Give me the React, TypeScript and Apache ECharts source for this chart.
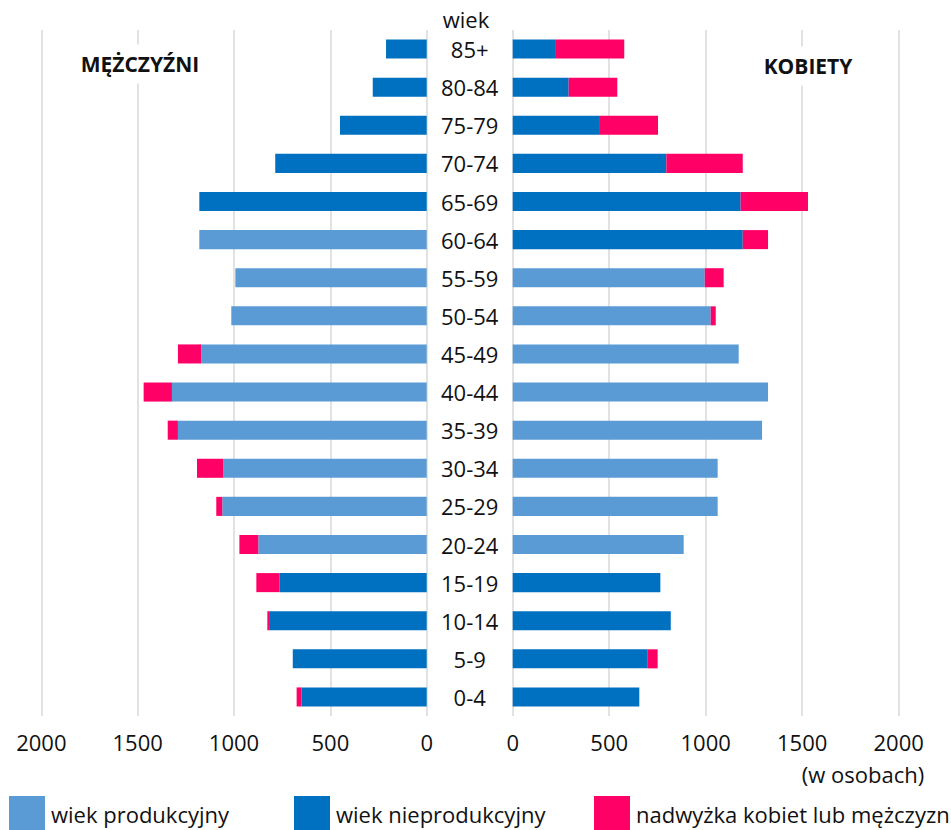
import React, { useEffect, useRef } from "react";
import * as echarts from "echarts";

// categories bottom -> top
const ageGroups = ["0-4", "5-9", "10-14", "15-19", "20-24", "25-29", "30-34", "35-39", "40-44", "45-49", "50-54", "55-59", "60-64", "65-69", "70-74", "75-79", "80-84", "85+"];

// Men (MĘŻCZYŹNI)
const menProductive = [0, 0, 0, 0, 874, 1061, 1055, 1291, 1322, 1170, 1014, 993, 1180, 0, 0, 0, 0, 0];
const menNonProductive = [649, 695, 818, 763, 0, 0, 0, 0, 0, 0, 0, 0, 0, 1180, 786, 450, 280, 211];
const menSurplus = [26, 0, 9, 121, 98, 31, 137, 53, 147, 121, 0, 0, 0, 0, 0, 0, 0, 0];

// Women (KOBIETY)
const womenProductive = [0, 0, 0, 0, 886, 1062, 1062, 1292, 1323, 1171, 1026, 995, 0, 0, 0, 0, 0, 0];
const womenNonProductive = [656, 697, 819, 765, 0, 0, 0, 0, 0, 0, 0, 0, 1192, 1181, 796, 452, 290, 224];
const womenSurplus = [0, 54, 0, 0, 0, 0, 0, 0, 0, 0, 26, 98, 131, 349, 396, 301, 252, 354];

const xTicks = [0, 500, 1000, 1500, 2000];

const NAME_PROD = "wiek produkcyjny";
const NAME_NONPROD = "wiek nieprodukcyjny";
const NAME_SURPLUS = "nadwyżka kobiet lub mężczyzn";

const C_PROD = "#5B9BD5";
const C_NONPROD = "#0070C0";
const C_SURPLUS = "#FF0066";
const FONT = "Open Sans";
const TXT = "#111111";
const GRIDC = "#D9D9D9";

export default function App() {
  const ref = useRef<HTMLDivElement>(null);
  useEffect(() => {
    if (!ref.current) return;
    const chart = echarts.init(ref.current, null, { renderer: "svg" });
    const xMax = xTicks[xTicks.length - 1];
    const xInt = xTicks[1] - xTicks[0];
    const valueAxis = (gridIndex: number, inverse: boolean) => ({
      type: "value",
      gridIndex,
      inverse,
      min: 0,
      max: xMax,
      interval: xInt,
      axisLine: { show: false },
      axisTick: { show: false },
      splitLine: { show: true, lineStyle: { color: GRIDC, width: 1.5 } },
      axisLabel: {
        color: TXT,
        fontFamily: FONT,
        fontSize: 22,
        margin: 15,
        formatter: (v: number) => String(v),
      },
    });
    const bar = (name: string, data: number[], color: string, idx: number, stack: string) => ({
      type: "bar",
      name,
      data,
      xAxisIndex: idx,
      yAxisIndex: idx,
      stack,
      barWidth: "50%",
      itemStyle: { color },
      emphasis: { disabled: true },
    });
    const legend = (name: string, left: number) => ({
      data: [name],
      left,
      top: 796,
      padding: 0,
      itemWidth: 36,
      itemHeight: 36,
      itemGap: 0,
      icon: "rect",
      selectedMode: false,
      textStyle: { color: TXT, fontFamily: FONT, fontSize: 22, padding: [0, 0, 0, 1] },
    });
    chart.setOption({
      animation: false,
      backgroundColor: "#ffffff",
      textStyle: { fontFamily: FONT },
      grid: [
        { left: 41.3, width: 385.4, top: 30, height: 686 },
        { left: 512.7, width: 386, top: 30, height: 686 },
      ],
      xAxis: [valueAxis(0, true), valueAxis(1, false)],
      yAxis: [
        {
          type: "category",
          gridIndex: 0,
          data: ageGroups,
          position: "right",
          axisLine: { show: false },
          axisTick: { show: false },
          axisLabel: { color: TXT, fontFamily: FONT, fontSize: 22, align: "center", margin: 43 },
        },
        {
          type: "category",
          gridIndex: 1,
          data: ageGroups,
          axisLine: { show: false },
          axisTick: { show: false },
          axisLabel: { show: false },
        },
      ],
      legend: [legend(NAME_PROD, 9), legend(NAME_NONPROD, 294), legend(NAME_SURPLUS, 594)],
      series: [
        bar(NAME_PROD, menProductive, C_PROD, 0, "men"),
        bar(NAME_NONPROD, menNonProductive, C_NONPROD, 0, "men"),
        bar(NAME_SURPLUS, menSurplus, C_SURPLUS, 0, "men"),
        bar(NAME_PROD, womenProductive, C_PROD, 1, "women"),
        bar(NAME_NONPROD, womenNonProductive, C_NONPROD, 1, "women"),
        bar(NAME_SURPLUS, womenSurplus, C_SURPLUS, 1, "women"),
      ],
      graphic: [
        {
          type: "text",
          x: 466,
          y: 19,
          style: { text: "wiek", fill: TXT, font: `22px '${FONT}'`, align: "center", verticalAlign: "middle" },
        },
        {
          type: "text",
          x: 140,
          y: 64,
          z: 10,
          style: {
            text: "MĘŻCZYŹNI",
            fill: TXT,
            font: `bold 21px '${FONT}'`,
            align: "center",
            verticalAlign: "middle",
            backgroundColor: "#ffffff",
            padding: [9, 4],
          },
        },
        {
          type: "text",
          x: 808,
          y: 66,
          z: 10,
          style: {
            text: "KOBIETY",
            fill: TXT,
            font: `bold 21px '${FONT}'`,
            align: "center",
            verticalAlign: "middle",
            backgroundColor: "#ffffff",
            padding: [9, 4],
          },
        },
        {
          type: "text",
          x: 863,
          y: 774,
          style: { text: "(w osobach)", fill: TXT, font: `22px '${FONT}'`, align: "center", verticalAlign: "middle" },
        },
      ],
    });
    return () => chart.dispose();
  }, []);
  return <div ref={ref} style={{ position: "absolute", left: 0, top: 0, width: 951, height: 830 }} />;
}
